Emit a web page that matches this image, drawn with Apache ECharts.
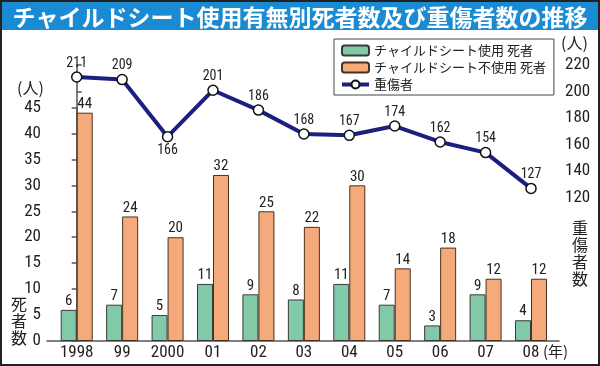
<!DOCTYPE html>
<html>
<head>
<meta charset="utf-8">
<script src="https://cdn.jsdelivr.net/npm/echarts@6/dist/echarts.min.js"></script>
<style>
html,body{margin:0;padding:0;background:#fff;}
#chart{width:600px;height:366px;}
</style>
</head>
<body>
<div id="chart"></div>
<script>
const titleText = 'チャイルドシート使用有無別死者数及び重傷者数の推移';
const categories = ['1998','99','2000','01','02','03','04','05','06','07','08'];
const usedDeaths = [6,7,5,11,9,8,11,7,3,9,4];
const unusedDeaths = [44,24,20,32,25,22,30,14,18,12,12];
const injured = [211,209,166,201,186,168,167,174,162,154,127];
const rightTicks = [120,140,160,180,200,220];
const seriesNames = ['チャイルドシート使用 死者','チャイルドシート不使用 死者','重傷者'];

const NARROW = "'Roboto Condensed','Liberation Sans',sans-serif";
const CJK = "'Noto Sans CJK JP',sans-serif";
const catIdx = categories.map((c,i)=>i);
const xMin = -0.654, xMax = 10.616;

const chart = echarts.init(document.getElementById('chart'));
chart.setOption({
  animation:false,
  backgroundColor:'#fff',
  title:{text:titleText,left:'center',top:1,
    textStyle:{color:'#fff',fontSize:23,fontWeight:'bold',fontFamily:CJK}},
  legend:{
    data:[{name:seriesNames[0]},{name:seriesNames[1]},{name:seriesNames[2],lineStyle:{width:4}}],
    orient:'vertical', left:334, top:39,
    itemWidth:27, itemHeight:10, itemGap:4, padding:[5,8,4,6],
    borderColor:'#444', borderWidth:1,
    textStyle:{fontSize:13,color:'#222',fontFamily:CJK}
  },
  grid:[
    {left:47,right:41,top:107.5,bottom:25},
    {left:47,right:41,top:65,bottom:25}
  ],
  xAxis:[
    {type:'value',gridIndex:0,min:xMin,max:xMax,
      axisLine:{show:true,lineStyle:{color:'#555',width:1.5}},
      axisTick:{show:false},splitLine:{show:false},
      axisLabel:{customValues:catIdx,formatter:v=>categories[Math.round(v)],
        fontSize:17,margin:3,color:'#222',fontFamily:NARROW}},
    {type:'value',gridIndex:1,min:xMin,max:xMax,show:false}
  ],
  yAxis:[
    {type:'value',gridIndex:0,position:'left',min:0,max:45,interval:5,
      axisLine:{show:true,lineStyle:{color:'#555',width:1.5}},
      axisTick:{show:true,length:5,lineStyle:{color:'#555',width:1.5}},
      splitLine:{show:false},
      axisLabel:{fontSize:17,margin:6,color:'#222',fontFamily:NARROW}},
    {type:'value',gridIndex:1,position:'right',min:12,max:220,
      axisLine:{show:true,lineStyle:{color:'#555',width:1.5}},
      axisTick:{show:true,length:5,customValues:rightTicks,lineStyle:{color:'#555',width:1.5}},
      splitLine:{show:false},
      axisLabel:{customValues:rightTicks,fontSize:17,margin:6,color:'#222',fontFamily:NARROW}}
  ],
  series:[
    {name:seriesNames[0],type:'bar',xAxisIndex:0,yAxisIndex:0,
      data:usedDeaths.map((v,i)=>[i,v]),barWidth:16,barGap:'0%',
      itemStyle:{color:'#82c9a8',borderColor:'#3a3a3a',borderWidth:1},
      label:{show:true,position:'top',distance:1,fontSize:15,color:'#222',fontFamily:NARROW,
        formatter:p=>p.value[1]}},
    {name:seriesNames[1],type:'bar',xAxisIndex:0,yAxisIndex:0,
      data:unusedDeaths.map((v,i)=>[i,v]),barWidth:16,barGap:'0%',
      itemStyle:{color:'#f5aa7b',borderColor:'#4a3020',borderWidth:1},
      label:{show:true,position:'top',distance:1,fontSize:15,color:'#222',fontFamily:NARROW,
        formatter:p=>p.value[1]}},
    {name:seriesNames[2],type:'line',xAxisIndex:1,yAxisIndex:1,
      data:injured.map((v,i)=>i===2?{value:[i,v],label:{position:'bottom'}}:[i,v]),
      symbol:'circle',symbolSize:10,
      lineStyle:{color:'#1b1f7e',width:4},
      itemStyle:{color:'#fff',borderColor:'#111',borderWidth:1.5},
      label:{show:true,position:'top',distance:1,fontSize:14,color:'#222',fontFamily:NARROW,
        formatter:p=>p.value[1]},
      z:5}
  ],
  graphic:[
    {type:'rect',z:-1,shape:{x:0,y:0,width:600,height:30},style:{fill:'#1a8bd3'}},
    {type:'text',left:17,top:80,style:{text:'(人)',font:'16px '+CJK,fill:'#222'}},
    {type:'text',left:561,top:35,style:{text:'(人)',font:'16px '+CJK,fill:'#222'}},
    {type:'text',left:11,top:295,style:{text:'死\n者\n数',font:'16px '+CJK,lineHeight:17,fill:'#222'}},
    {type:'text',left:572,top:219,style:{text:'重\n傷\n者\n数',font:'16px '+CJK,lineHeight:17,fill:'#222'}},
    {type:'text',left:543,top:344,style:{text:'(年)',font:'15px '+CJK,fill:'#222'}},
    {type:'rect',z:100,shape:{x:1,y:1,width:598,height:364},style:{fill:'none',stroke:'#222',lineWidth:2}}
  ]
});
</script>
</body>
</html>
